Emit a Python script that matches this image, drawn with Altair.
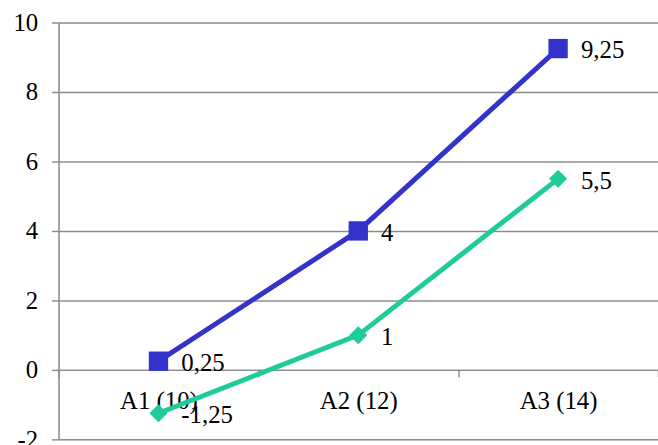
import altair as alt
import pandas as pd

# Chart data
categories = ["A1 (10)", "A2 (12)", "A3 (14)"]
series_names = ["S1", "S2"]
series_blue = [0.25, 4, 9.25]
series_green = [-1.25, 1, 5.5]
y_ticks = [-2, 0, 2, 4, 6, 8, 10]

rows = []
for name, vals in zip(series_names, [series_blue, series_green]):
    for cat, v in zip(categories, vals):
        rows.append({"cat": cat, "value": v, "series": name})
df = pd.DataFrame(rows)

FONT = "Liberation Serif"
FS = 25
GRID = "#8c8c8c"

x_enc = alt.X(
    "cat:N",
    sort=categories,
    scale=alt.Scale(paddingInner=0, paddingOuter=0),
    axis=alt.Axis(
        title=None, labelAngle=0, offset=-70, tickBand="extent",
        domainColor=GRID, tickColor=GRID, tickSize=7, domainWidth=1.5, tickWidth=1.5,
        labelFont=FONT, labelFontSize=FS, labelColor="#000000", labelPadding=12,
    ),
)
y_enc = alt.Y(
    "value:Q",
    scale=alt.Scale(domain=[-2, 10], nice=False, zero=False),
    axis=alt.Axis(
        title=None, values=y_ticks, grid=True, gridColor=GRID, gridWidth=1.5,
        domainColor=GRID, domainWidth=1.5, tickColor=GRID, tickSize=7, tickWidth=1.5,
        labelFont=FONT, labelFontSize=FS, labelColor="#000000", labelPadding=14,
        labelExpr="replace(datum.label, '\u2212', '-')",
    ),
)
color_enc = alt.Color(
    "series:N",
    scale=alt.Scale(domain=series_names, range=["#3333cc", "#1ecc9a"]),
    legend=None,
)

base = alt.Chart(df).encode(x=x_enc, y=y_enc, color=color_enc)

lines = base.mark_line(strokeWidth=5)
squares = base.transform_filter(alt.datum.series == "S1").mark_point(
    shape="square", filled=True, size=380, opacity=1
)
diamonds = base.transform_filter(alt.datum.series == "S2").mark_point(
    shape="diamond", filled=True, size=330, opacity=1
)
labels = base.transform_calculate(
    label="replace(toString(datum.value), '.', ',')"
).mark_text(
    align="left", baseline="middle", dx=23, dy=2, font=FONT, fontSize=FS, color="#000000"
).encode(text="label:N", color=alt.value("#000000"))

chart = (
    alt.layer(lines, squares, diamonds, labels)
    .properties(
        width=604, height=420,
        padding={"left": 59, "top": 21, "right": 0, "bottom": 4},
        autosize=alt.AutoSizeParams(type="none"),
    )
    .configure_view(stroke=None)
    .configure(background="#ffffff")
)

chart.save("out.html", embed_options={"renderer": "svg", "actions": False})
